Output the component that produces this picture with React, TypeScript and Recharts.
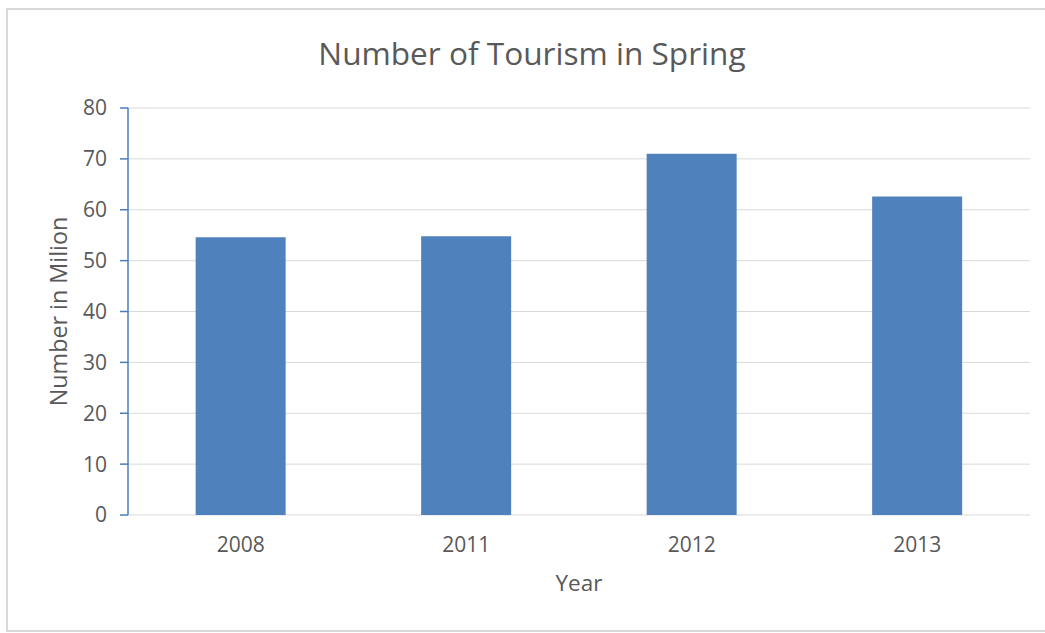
import React from 'react';
import { BarChart, Bar, XAxis, YAxis, CartesianGrid } from 'recharts';

const years = ['2008', '2011', '2012', '2013'];
const tourists = [54.6, 54.8, 71, 62.6];
const yTicks = [0, 10, 20, 30, 40, 50, 60, 70, 80];

const data = years.map((y, i) => ({ year: y, value: tourists[i] }));

const FONT = "'Open Sans', sans-serif";
const TEXT = '#595959';

export default function App() {
  return (
    <div style={{ position: 'absolute', left: 0, top: 0, width: 1045, height: 633, background: '#fff', overflow: 'hidden' }}>
      <div
        style={{
          position: 'absolute',
          left: 6,
          top: 8,
          width: 1060,
          height: 624,
          boxSizing: 'border-box',
          borderTop: '2px solid #D9D9D9',
          borderLeft: '2px solid #D9D9D9',
          borderBottom: '2px solid #D9D9D9',
        }}
      />
      <div style={{ position: 'absolute', left: 0, top: 0 }}>
        <BarChart
          width={1045}
          height={633}
          data={data}
          margin={{ top: 108, right: 15, bottom: 0, left: 0 }}
          barCategoryGap="30%"
        >
          <CartesianGrid horizontal vertical={false} stroke="#D9D9D9" strokeWidth={1} />
          <XAxis
            dataKey="year"
            height={118}
            axisLine={false}
            tickLine={false}
            tickSize={0}
            tickMargin={22}
            tick={{ fill: TEXT, fontSize: 21, fontFamily: FONT }}
            label={{ value: 'Year', position: 'insideTop', offset: 60, fill: TEXT, fontSize: 22.5, fontFamily: FONT }}
          />
          <YAxis
            width={128}
            domain={[0, 80]}
            ticks={yTicks}
            interval={0}
            axisLine={{ stroke: '#4A7EBB', strokeWidth: 1.5 }}
            tickLine={{ stroke: '#4A7EBB', strokeWidth: 1.5 }}
            tickSize={8}
            tickMargin={13}
            tick={{ fill: TEXT, fontSize: 21, fontFamily: FONT }}
            label={{ value: 'Number in Milion', angle: -90, position: 'center', dx: -5, fill: TEXT, fontSize: 23.3, fontFamily: FONT }}
          />
          <Bar dataKey="value" fill="#4F81BD" isAnimationActive={false} />
        </BarChart>
      </div>
      <svg width={1045} height={633} style={{ position: 'absolute', left: 0, top: 0, pointerEvents: 'none' }}>
        <text x={532} y={65} textAnchor="middle" fill={TEXT} fontSize={31.6} fontFamily={FONT}>
          Number of Tourism in Spring
        </text>
      </svg>
    </div>
  );
}
